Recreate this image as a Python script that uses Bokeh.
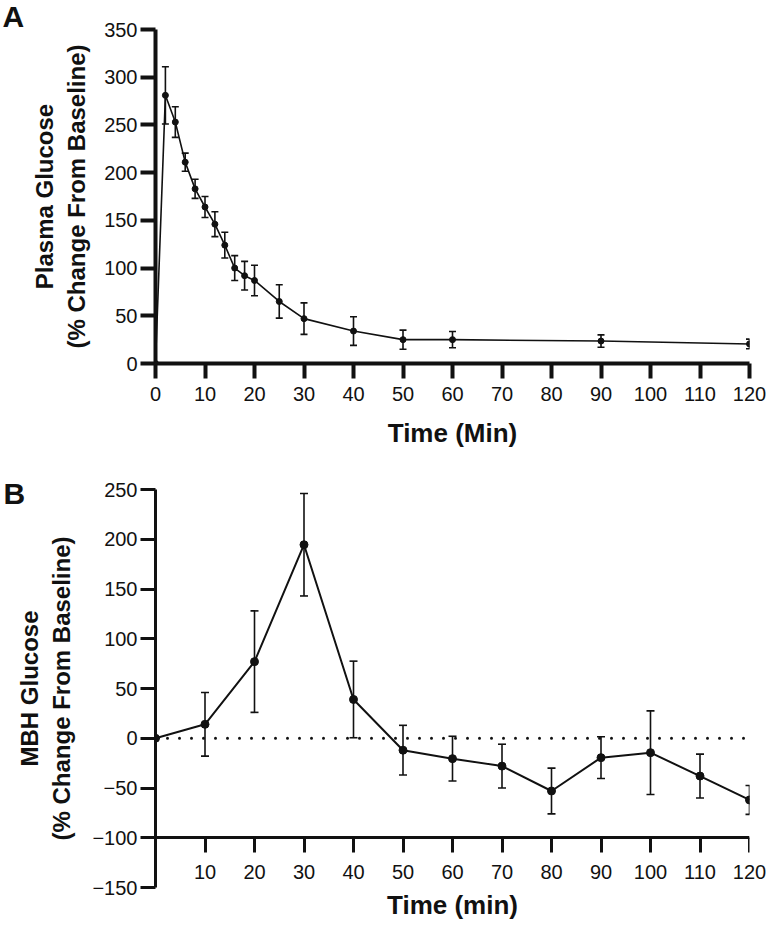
from bokeh.plotting import figure
from bokeh.layouts import column
from bokeh.models import Range1d, FixedTicker, Title, LinearAxis
from bokeh.embed import file_html
from bokeh.resources import INLINE

# ---------------- data ----------------
# Panel A: plasma glucose
a_time = [0, 2, 4, 6, 8, 10, 12, 14, 16, 18, 20, 25, 30, 40, 50, 60, 90, 120]
a_mean = [0, 281, 253, 211, 183, 164, 146, 124, 100, 92, 87, 65, 47, 34, 25, 25, 23.5, 20.5]
a_sem = [0, 30, 16, 9.5, 10, 11, 13, 13.5, 13, 15, 16, 17.5, 16.5, 15, 10, 8.5, 6.5, 5]
a_xticks = [0, 10, 20, 30, 40, 50, 60, 70, 80, 90, 100, 110, 120]
a_yticks = [0, 50, 100, 150, 200, 250, 300, 350]

# Panel B: MBH glucose
b_time = [0, 10, 20, 30, 40, 50, 60, 70, 80, 90, 100, 110, 120]
b_mean = [0, 14, 77, 194.5, 39, -12, -20.5, -28, -53, -19.5, -14.5, -38, -62]
b_sem = [0, 32, 51, 51.5, 38.5, 25, 22.5, 22, 23, 21, 42, 22, 14.5]
b_xticks = [10, 20, 30, 40, 50, 60, 70, 80, 90, 100, 110, 120]
b_yticks = [-150, -100, -50, 0, 50, 100, 150, 200, 250]
b_xaxis_at = -100
b_ref_x = [0, 120]
b_ref_y = [0, 0]

FONT = "Liberation Sans"
INK = "#111111"


def style(p, axis_w, ticks_x, ticks_y):
    p.grid.visible = False
    p.outline_line_color = None
    p.background_fill_color = "white"
    for ax in (p.xaxis[0], p.yaxis[0]):
        ax.axis_line_width = axis_w
        ax.axis_line_color = INK
        ax.major_tick_line_width = axis_w
        ax.major_tick_line_color = INK
        ax.major_tick_out = 15
        ax.major_tick_in = 0
        ax.minor_tick_line_color = None
        ax.major_label_text_font = FONT
        ax.major_label_text_font_size = "20px"
        ax.major_label_text_color = INK
        ax.axis_label_text_font = FONT
        ax.axis_label_text_font_style = "bold"
        ax.axis_label_text_font_size = "24px"
        ax.axis_label_text_color = INK
    p.xaxis[0].ticker = FixedTicker(ticks=ticks_x)
    p.yaxis[0].ticker = FixedTicker(ticks=ticks_y)
    p.xaxis[0].major_label_standoff = 8
    p.yaxis[0].major_label_standoff = 3
    p.xaxis[0].axis_label_standoff = 14
    p.yaxis[0].axis_label_standoff = 11
    p.xaxis[0].axis_label_text_font_size = "26px"


def draw(p, xs, ys, es, lw, msize, cap):
    lo = [y - e for y, e in zip(ys, es)]
    hi = [y + e for y, e in zip(ys, es)]
    p.line(xs, ys, line_color=INK, line_width=lw)
    p.segment(xs, lo, xs, hi, line_color=INK, line_width=1.6)
    p.scatter(xs, lo, marker="dash", size=cap, line_color=INK, line_width=1.6)
    p.scatter(xs, hi, marker="dash", size=cap, line_color=INK, line_width=1.6)
    p.scatter(xs, ys, marker="circle", size=msize, fill_color=INK, line_color=INK)


def panel_letter(p, letter, offset, standoff):
    p.add_layout(Title(text=letter, align="left", offset=offset, standoff=standoff,
                       text_font=FONT, text_font_style="bold",
                       text_font_size="30px", text_color=INK,
                       text_line_height=0.8), "above")


# ---------------- panel A ----------------
pA = figure(width=769, height=450, x_range=Range1d(0, 120), y_range=Range1d(0, 350),
            output_backend="svg", toolbar_location=None,
            min_border_left=155, min_border_right=20, min_border_top=29,
            min_border_bottom=83)
style(pA, 4, a_xticks, a_yticks)
pA.xaxis[0].axis_label = "Time (Min)"
pA.yaxis[0].axis_label = "Plasma Glucose\n(% Change From Baseline)"
draw(pA, a_time, a_mean, a_sem, 1.6, 6, 7)
panel_letter(pA, "A", -153, -6)

# ---------------- panel B ----------------
pB = figure(width=769, height=475, x_range=Range1d(0, 120),
            y_range=Range1d(min(b_yticks), max(b_yticks)),
            output_backend="svg", toolbar_location=None,
            min_border_left=155, min_border_right=20, min_border_top=39,
            min_border_bottom=38)
style(pB, 3, b_xticks, b_yticks)
# axis line + ticks sit at y = -100; their labels come from the second axis below
pB.xaxis[0].fixed_location = b_xaxis_at
pB.xaxis[0].major_label_overrides = {t: "" for t in b_xticks}
pB.yaxis[0].axis_label_standoff = 14
pB.yaxis[0].axis_label = "MBH Glucose\n(% Change From Baseline)"

lab_ax = LinearAxis(ticker=FixedTicker(ticks=b_xticks),
                    axis_line_color=None, major_tick_line_color=None,
                    minor_tick_line_color=None, major_tick_out=0, major_tick_in=0,
                    major_label_standoff=-23,
                    major_label_text_font=FONT, major_label_text_font_size="20px",
                    major_label_text_color=INK,
                    axis_label="Time (min)", axis_label_standoff=8,
                    axis_label_text_font=FONT, axis_label_text_font_style="bold",
                    axis_label_text_font_size="26px", axis_label_text_color=INK)
pB.add_layout(lab_ax, "below")

pB.line(b_ref_x, b_ref_y, line_color=INK, line_width=3, line_dash="0 12",
        line_cap="round")
draw(pB, b_time, b_mean, b_sem, 2, 8, 8)
panel_letter(pB, "B", -152, -41)

layout = column(pA, pB)
open("out.html", "w").write(file_html(layout, INLINE))
